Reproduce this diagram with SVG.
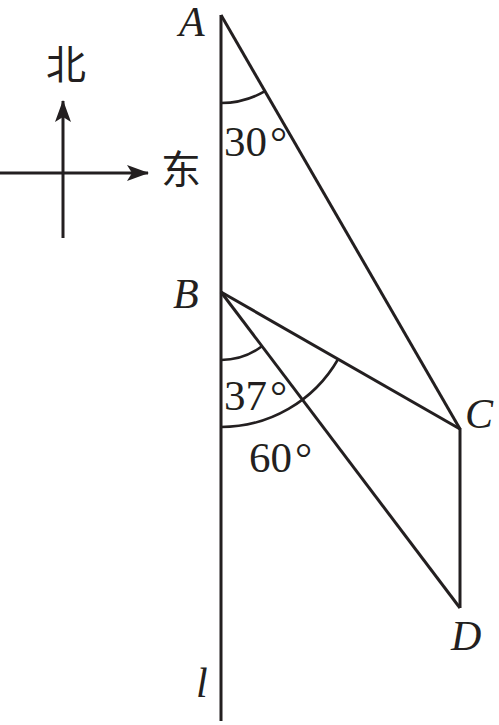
<svg xmlns="http://www.w3.org/2000/svg" width="499" height="725" viewBox="0 0 499 725">
<style>
.ln{stroke:#231f20;stroke-width:3;fill:none;stroke-linecap:butt}
.arc{stroke:#231f20;stroke-width:2.6;fill:none}
.lbl{font-family:"Liberation Serif","Times New Roman",serif;font-style:italic;font-size:42px;fill:#231f20}
.num{font-family:"Liberation Serif","Times New Roman",serif;font-size:43px;fill:#231f20}
.cn{font-family:"Noto Sans CJK SC","Noto Sans CJK JP",serif;font-size:40px;fill:#231f20}
</style>
<defs>
<marker id="ah" viewBox="0 0 22 16" refX="21" refY="8" markerWidth="22" markerHeight="16" markerUnits="userSpaceOnUse" orient="auto">
<path d="M0,0 L22,8 L0,16 L5,8 Z" fill="#231f20"/>
</marker>
</defs>
<g id="compass">
<line class="ln" x1="63" y1="238" x2="63" y2="101" marker-end="url(#ah)"/>
<line class="ln" x1="0" y1="173" x2="148" y2="173" marker-end="url(#ah)"/>
<text class="cn" x="66" y="79" text-anchor="middle">北</text>
<text class="cn" x="181" y="184" text-anchor="middle">东</text>
</g>
<g id="connectors">
<line class="ln" x1="221" y1="15" x2="221" y2="721"/>
<line class="ln" x1="221" y1="15" x2="460" y2="429"/>
<line class="ln" x1="221" y1="292" x2="460" y2="429"/>
<line class="ln" x1="221" y1="292" x2="460" y2="608"/>
<line class="ln" x1="460" y1="428" x2="460" y2="608"/>
<path class="arc" d="M221,103 A88,88 0 0 0 265,91.2"/>
<path class="arc" d="M221,360 A68,68 0 0 0 261.9,346.3"/>
<path class="arc" d="M221,427 A135,135 0 0 0 337.9,359.5"/>
</g>
<g id="A"><text class="lbl" x="179" y="36" font-size="38">A</text></g>
<g id="B"><text class="lbl" x="173" y="308">B</text></g>
<g id="C"><text class="lbl" x="465" y="428">C</text></g>
<g id="D"><text class="lbl" x="451" y="650">D</text></g>
<g id="l"><text class="lbl" x="196" y="697">l</text></g>
<g id="angA"><text class="num" x="224" y="156">30<tspan dx="3">°</tspan></text></g>
<g id="angB1"><text class="num" x="224" y="410">37<tspan dx="3">°</tspan></text></g>
<g id="angB2"><text class="num" x="249" y="472">60<tspan dx="3">°</tspan></text></g>
</svg>
